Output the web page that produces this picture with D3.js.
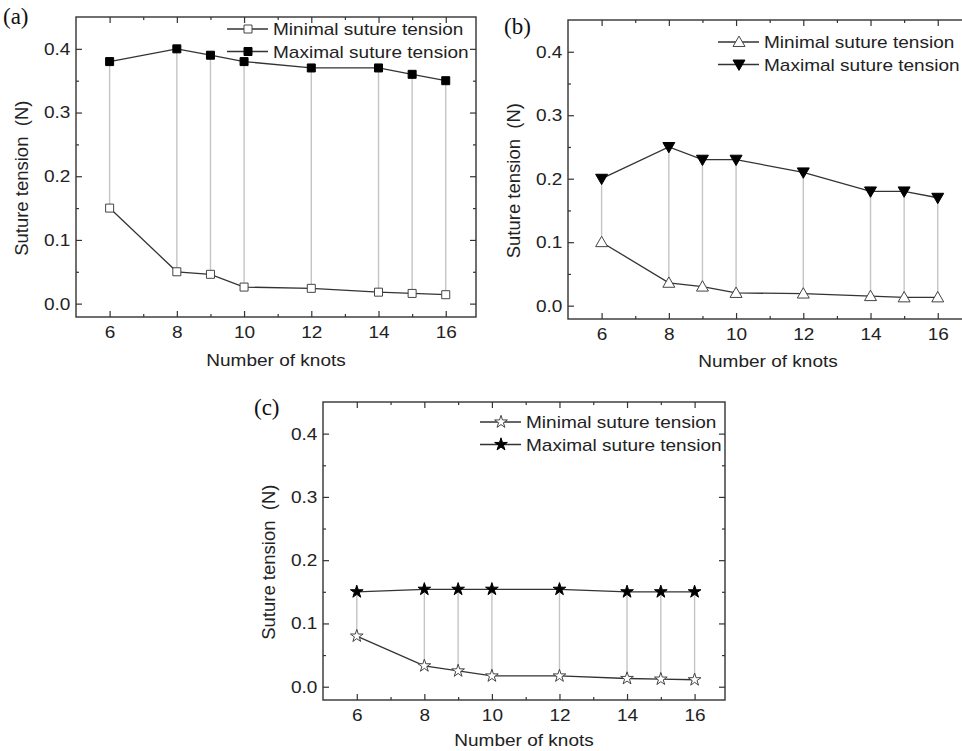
<!DOCTYPE html>
<html>
<head>
<meta charset="utf-8">
<script src="https://cdn.jsdelivr.net/npm/d3@7"></script>
<style>
  body { margin: 0; background: #fff; }
  svg { display: block; }
</style>
</head>
<body>
<svg id="chart"></svg>
<script>
// data
var knots = [6, 8, 9, 10, 12, 14, 15, 16];

var minA = [0.15, 0.05, 0.046, 0.026, 0.024, 0.018, 0.016, 0.014];
var maxA = [0.38, 0.40, 0.39, 0.38, 0.37, 0.37, 0.36, 0.35];

var minB = [0.10, 0.036, 0.030, 0.020, 0.019, 0.015, 0.013, 0.013];
var maxB = [0.20, 0.25, 0.23, 0.23, 0.21, 0.18, 0.18, 0.17];

var minC = [0.08, 0.033, 0.025, 0.017, 0.017, 0.013, 0.012, 0.011];
var maxC = [0.15, 0.154, 0.154, 0.154, 0.154, 0.15, 0.15, 0.15];

var legendLabels = ["Minimal suture tension", "Maximal suture tension"];
var panelLabels = ["(a)", "(b)", "(c)"];
var xTicks = [6, 8, 10, 12, 14, 16];
var xMinor = [7, 9, 11, 13, 15];
var yTicks = [0, 0.1, 0.2, 0.3, 0.4];
var yMinor = [0.05, 0.15, 0.25, 0.35];
var xTitle = "Number of knots";
var yTitle = "Suture tension  (N)";

var svgWidth = 962,
    svgHeight = 751;

var svg = d3.select("#chart")
    .attr("width", svgWidth)
    .attr("height", svgHeight);

var font = "'Liberation Sans', Arial, sans-serif";
var ink = "#222";
var fs = 17,
    stretch = 1.12;   // the scan is a bit wider than tall

// layout of the three panels
var panels = [
    {label: panelLabels[0], min: minA, max: maxA, shape: "square",
     left: 76, top: 17, w: 400, h: 300, lab: [3, 24], leg: [151, 12], xt: 49},
    {label: panelLabels[1], min: minB, max: maxB, shape: "triangle",
     left: 568, top: 20, w: 400, h: 299, lab: [504, 34], leg: [150, 22], xt: 48},
    {label: panelLabels[2], min: minC, max: maxC, shape: "star",
     left: 323, top: 402, w: 402, h: 298, lab: [254, 415], leg: [157, 20], xt: 46}
];

function marker(shape) {
    if (shape == "square") return d3.symbol().type(d3.symbolSquare).size(64)();
    if (shape == "star") return d3.symbol().type(d3.symbolStar).size(50)();
    return d3.symbol().type(d3.symbolTriangle).size(62)();
}

function drawMarker(g, shape, filled, x, y) {
    var rot = (shape == "triangle" && filled) ? 180 : 0;
    var dy = (shape == "triangle") ? (filled ? -1 : 1) : 0;
    g.append("path")
        .attr("d", marker(shape))
        .attr("transform", "translate(" + x + "," + (y + dy) + ") rotate(" + rot + ")")
        .attr("fill", filled ? "#000" : "#fff")
        .attr("stroke", filled ? "#000" : "#444")
        .attr("stroke-width", 1);
}

function label(g, x, y, str, anchor) {
    return g.append("text")
        .attr("transform", "translate(" + x + "," + y + ") scale(" + stretch + ",1)")
        .attr("text-anchor", anchor || "start")
        .attr("font-family", font)
        .attr("font-size", fs)
        .attr("fill", ink)
        .text(str);
}

panels.forEach(function (p) {
    var g = svg.append("g")
        .attr("transform", "translate(" + p.left + "," + p.top + ")");

    var xScale = d3.scaleLinear()
        .domain([5, 16.9])
        .range([0, p.w]);

    var yScale = d3.scaleLinear()
        .domain([-0.021, 0.45])
        .range([p.h, 0]);

    // axes, ticks pointing inward
    function styleAxis(a) {
        a.select(".domain").remove();
        a.selectAll("line").attr("stroke", "#333").attr("stroke-width", 1.2);
        a.selectAll("text").attr("fill", ink)
            .attr("transform", "scale(" + stretch + ",1)");
        a.attr("font-family", font).attr("font-size", fs);
    }

    g.append("g").attr("transform", "translate(0," + p.h + ")")
        .call(d3.axisBottom(xScale).tickValues(xTicks).tickSize(-6).tickPadding(9).tickFormat(d3.format("d")))
        .call(styleAxis);
    g.append("g").attr("transform", "translate(0," + p.h + ")")
        .call(d3.axisBottom(xScale).tickValues(xMinor).tickSize(-3).tickFormat(""))
        .call(styleAxis);
    g.append("g")
        .call(d3.axisTop(xScale).tickValues(xTicks).tickSize(-6).tickFormat(""))
        .call(styleAxis);
    g.append("g")
        .call(d3.axisTop(xScale).tickValues(xMinor).tickSize(-3).tickFormat(""))
        .call(styleAxis);

    g.append("g")
        .call(d3.axisLeft(yScale).tickValues(yTicks).tickSize(-6).tickPadding(5).tickFormat(d3.format(".1f")))
        .call(styleAxis);
    g.append("g")
        .call(d3.axisLeft(yScale).tickValues(yMinor).tickSize(-3).tickFormat(""))
        .call(styleAxis);
    g.append("g").attr("transform", "translate(" + p.w + ",0)")
        .call(d3.axisRight(yScale).tickValues(yTicks).tickSize(-6).tickFormat(""))
        .call(styleAxis);
    g.append("g").attr("transform", "translate(" + p.w + ",0)")
        .call(d3.axisRight(yScale).tickValues(yMinor).tickSize(-3).tickFormat(""))
        .call(styleAxis);

    // frame
    g.append("rect")
        .attr("width", p.w)
        .attr("height", p.h)
        .attr("fill", "none")
        .attr("stroke", "#333")
        .attr("stroke-width", 1.4);

    // drop lines between min and max
    g.selectAll(".drop")
        .data(knots)
        .enter()
        .append("line")
        .attr("x1", function (d) { return xScale(d); })
        .attr("x2", function (d) { return xScale(d); })
        .attr("y1", function (d, i) { return yScale(p.min[i]); })
        .attr("y2", function (d, i) { return yScale(p.max[i]); })
        .attr("stroke", "#c4c4c4")
        .attr("stroke-width", 1.4);

    var line = d3.line()
        .x(function (d) { return xScale(d[0]); })
        .y(function (d) { return yScale(d[1]); });

    [p.min, p.max].forEach(function (vals, s) {
        var pts = knots.map(function (k, i) { return [k, vals[i]]; });
        g.append("path")
            .attr("d", line(pts))
            .attr("fill", "none")
            .attr("stroke", "#333")
            .attr("stroke-width", 1.3);
        pts.forEach(function (pt) {
            drawMarker(g, p.shape, s == 1, xScale(pt[0]), yScale(pt[1]));
        });
    });

    // legend
    legendLabels.forEach(function (lab, i) {
        var lx = p.leg[0], ly = p.leg[1] + i * 22.5;
        g.append("line")
            .attr("x1", lx).attr("x2", lx + 41)
            .attr("y1", ly).attr("y2", ly)
            .attr("stroke", "#333").attr("stroke-width", 1.3);
        drawMarker(g, p.shape, i == 1, lx + 21, ly);
        label(g, lx + 46, ly + 6, lab);
    });

    // axis titles
    label(g, p.w / 2, p.h + p.xt, xTitle, "middle");

    g.append("text")
        .attr("transform", "translate(-48," + (yScale(0.2) + 2) + ") rotate(-90)")
        .attr("text-anchor", "middle")
        .attr("font-family", font)
        .attr("font-size", 18.5)
        .attr("fill", ink)
        .style("white-space", "pre")
        .text(yTitle);

    // panel letter
    svg.append("text")
        .attr("x", p.lab[0])
        .attr("y", p.lab[1])
        .attr("font-family", "'Liberation Serif', 'Times New Roman', serif")
        .attr("font-size", 23)
        .attr("fill", "#111")
        .text(p.label);
});
</script>
</body>
</html>
